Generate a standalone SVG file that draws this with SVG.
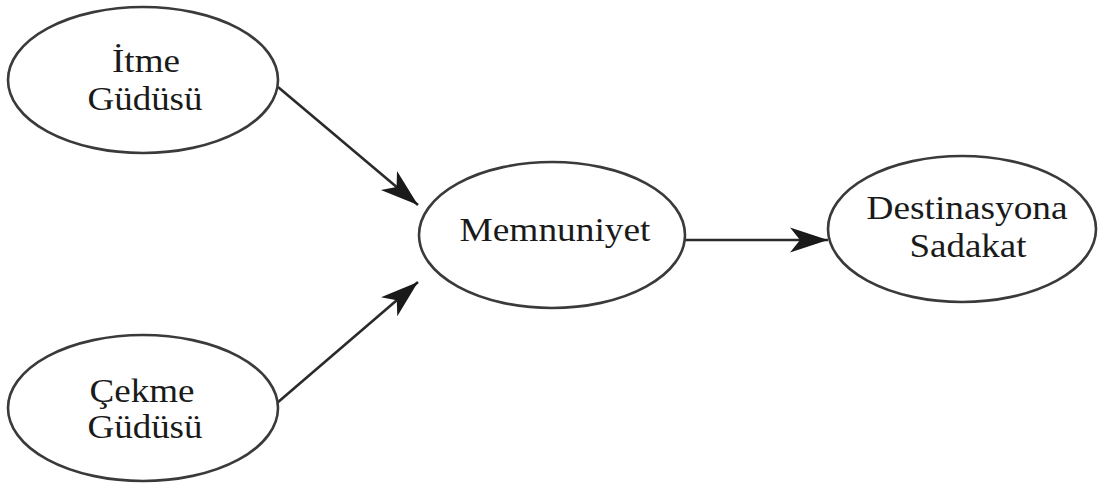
<svg xmlns="http://www.w3.org/2000/svg" width="1107" height="485" viewBox="0 0 1107 485">
<style>
.node ellipse{fill:#fff;stroke:#3a3a3a;stroke-width:2.6}
.node text{font-family:"Liberation Serif","Times New Roman",serif;font-size:33px;fill:#1a1a1a;text-anchor:middle}
.edge{stroke:#2a2a2a;stroke-width:2.6;fill:none}
</style>
<defs>
<marker id="arr" markerUnits="userSpaceOnUse" markerWidth="40" markerHeight="28" viewBox="-40 -14 40 28" refX="0" refY="0" orient="auto">
<path d="M0,0 L-38,-12.5 L-28,0 L-38,12.5 Z" fill="#1a1a1a"/>
</marker>
</defs>
<rect width="1107" height="485" fill="#fff"/>
<g id="connectors">
<line class="edge" x1="278" y1="87" x2="418" y2="205" marker-end="url(#arr)"/>
<line class="edge" x1="277" y1="403" x2="418" y2="282" marker-end="url(#arr)"/>
<line class="edge" x1="685" y1="240" x2="828" y2="240" marker-end="url(#arr)"/>
</g>
<g id="itme" class="node">
<ellipse cx="143" cy="80" rx="135" ry="73"/>
<text x="146" y="72" textLength="68" lengthAdjust="spacingAndGlyphs">İtme</text>
<text x="145" y="110" textLength="115" lengthAdjust="spacingAndGlyphs">Güdüsü</text>
</g>
<g id="cekme" class="node">
<ellipse cx="143" cy="408" rx="135" ry="73"/>
<text x="142" y="402" textLength="105" lengthAdjust="spacingAndGlyphs">Çekme</text>
<text x="145" y="438" textLength="115" lengthAdjust="spacingAndGlyphs">Güdüsü</text>
</g>
<g id="memnuniyet" class="node">
<ellipse cx="552" cy="235" rx="133" ry="73"/>
<text x="555" y="241" textLength="191" lengthAdjust="spacingAndGlyphs">Memnuniyet</text>
</g>
<g id="sadakat" class="node">
<ellipse cx="962" cy="229" rx="134" ry="73"/>
<text x="967" y="219" textLength="201" lengthAdjust="spacingAndGlyphs">Destinasyona</text>
<text x="968" y="257" textLength="117" lengthAdjust="spacingAndGlyphs">Sadakat</text>
</g>
</svg>
